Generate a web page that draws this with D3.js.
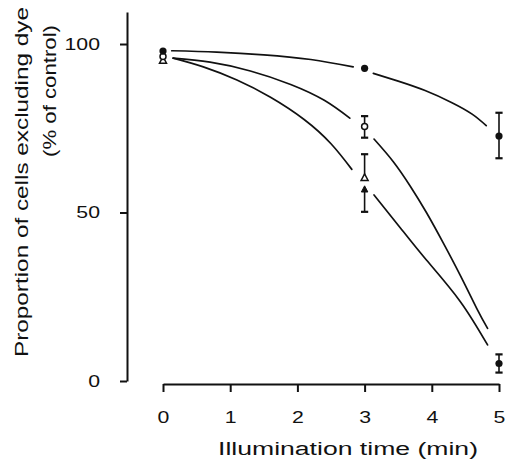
<!DOCTYPE html>
<html>
<head>
<meta charset="utf-8">
<script src="https://cdn.jsdelivr.net/npm/d3@7"></script>
<style>
  html, body { margin: 0; padding: 0; background: #fff; }
  svg { display: block; }
  text { font-family: "Liberation Sans", Arial, Helvetica, sans-serif; fill: #111; }
</style>
</head>
<body>
<svg id="chart" width="509" height="460"></svg>
<script>
// Illumination time (min) on x, % of control cells excluding dye on y
const xTicks = [0, 1, 2, 3, 4, 5];
const yTicks = [0, 50, 100];

// Measured points: t = time (min), v = % of control, lo/hi = error bar ends
const filledCircles = [
  { t: 0, v: 97.9 },
  { t: 3, v: 92.8 },
  { t: 5, v: 72.7, lo: 66.1, hi: 79.6 },
  { t: 5, v: 5.2, lo: 2.5, hi: 7.9 }
];
const openCircles = [
  { t: 0, v: 96.3 },
  { t: 3, v: 75.5, lo: 72.2, hi: 78.6 }
];
const openTriangles = [
  { t: 0, v: 95.3 },
  { t: 3, v: 60.5, hi: 67.3 }
];
const filledTriangles = [
  { t: 3, v: 57.0, lo: 50.2 }
];

// Fitted curves (segments stop short of the symbols)
const curveA1 = [[0.13, 98.0], [0.8, 97.6], [1.5, 96.8], [2.2, 95.4], [2.83, 93.2]];
const curveA2 = [[3.13, 91.3], [3.5, 89.0], [3.9, 86.2], [4.3, 82.6], [4.6, 79.2], [4.81, 75.8]];
const curveB1 = [[0.15, 95.8], [0.7, 94.6], [1.3, 92.0], [1.9, 88.0], [2.4, 83.3], [2.78, 78.0]];
const curveB2 = [[3.14, 71.8], [3.43, 65.0], [3.68, 57.8], [3.92, 50.0], [4.17, 41.0], [4.42, 31.5], [4.67, 21.5], [4.83, 15.6]];
const curveC1 = [[0.15, 95.8], [0.6, 93.2], [1.1, 89.3], [1.6, 84.2], [2.1, 77.6], [2.5, 70.4], [2.81, 62.8]];
const curveD1 = [[3.14, 55.2], [3.53, 45.5], [3.92, 35.9], [4.42, 23.7], [4.83, 10.7]];

const svg = d3.select("#chart");

const x = d3.scaleLinear().domain([0, 5]).range([163, 499]);
const y = d3.scaleLinear().domain([0, 109.5]).range([381, 12]);

// --- axes ---
const yAxis = svg.append("g")
  .attr("transform", "translate(127,0)")
  .call(d3.axisLeft(y).tickValues(yTicks).tickSizeInner(7).tickSizeOuter(0).tickPadding(20).tickFormat(d3.format("d")));

const xAxis = svg.append("g")
  .attr("transform", "translate(0,384)")
  .call(d3.axisBottom(x).tickValues(xTicks).tickSizeInner(8).tickSizeOuter(0).tickPadding(19).tickFormat(d3.format("d")));

[yAxis, xAxis].forEach(g => {
  g.select(".domain").attr("stroke", "#111").attr("stroke-width", 2);
  g.selectAll(".tick line").attr("stroke", "#111").attr("stroke-width", 2);
  g.selectAll(".tick text")
    .attr("font-family", null)
    .attr("font-size", 17)
    .attr("fill", "#111")
    .each(function () {
      const w = this.getComputedTextLength();
      d3.select(this).attr("textLength", w * 1.25).attr("lengthAdjust", "spacingAndGlyphs");
    });
});

// --- axis titles ---
svg.append("text")
  .attr("x", 218).attr("y", 455)
  .attr("font-size", 18)
  .attr("textLength", 260).attr("lengthAdjust", "spacingAndGlyphs")
  .text("Illumination time (min)");

svg.append("text")
  .attr("transform", "translate(27.5,357) rotate(-90)")
  .attr("font-size", 18)
  .attr("textLength", 350).attr("lengthAdjust", "spacingAndGlyphs")
  .text("Proportion of cells excluding dye");

svg.append("text")
  .attr("transform", "translate(56,157) rotate(-90)")
  .attr("font-size", 18)
  .attr("textLength", 132).attr("lengthAdjust", "spacingAndGlyphs")
  .text("(% of control)");

// --- curves ---
const line = d3.line()
  .x(d => x(d[0]))
  .y(d => y(d[1]))
  .curve(d3.curveNatural);

svg.append("g")
  .selectAll("path")
  .data([curveA1, curveA2, curveB1, curveB2, curveC1, curveD1])
  .join("path")
  .attr("d", line)
  .attr("fill", "none")
  .attr("stroke", "#111")
  .attr("stroke-width", 1.7)
  .attr("stroke-linecap", "round");

// --- error bars ---
const capW = 3.6;
function errorBars(data) {
  const g = svg.append("g").attr("stroke", "#111");
  data.filter(d => d.lo !== undefined || d.hi !== undefined).forEach(d => {
    const top = d.hi !== undefined ? d.hi : d.v;
    const bot = d.lo !== undefined ? d.lo : d.v;
    g.append("line")
      .attr("x1", x(d.t)).attr("x2", x(d.t))
      .attr("y1", y(top)).attr("y2", y(bot))
      .attr("stroke-width", 1.6);
    [d.hi, d.lo].filter(e => e !== undefined).forEach(e => {
      g.append("line")
        .attr("x1", x(d.t) - capW).attr("x2", x(d.t) + capW)
        .attr("y1", y(e)).attr("y2", y(e))
        .attr("stroke-width", 2.2);
    });
  });
}
[filledCircles, openCircles, openTriangles, filledTriangles].forEach(errorBars);

// --- symbols ---
const tri = (cx, cy, s) => {
  const h = s * 0.95;
  return `M${cx},${cy - h / 2}L${cx + s / 2},${cy + h / 2}L${cx - s / 2},${cy + h / 2}Z`;
};

svg.append("g").selectAll("path")
  .data(openTriangles)
  .join("path")
  .attr("d", d => tri(x(d.t), y(d.v), 7))
  .attr("fill", "#fff").attr("stroke", "#111").attr("stroke-width", 1.5);

svg.append("g").selectAll("path")
  .data(filledTriangles)
  .join("path")
  .attr("d", d => tri(x(d.t), y(d.v), 6.5))
  .attr("fill", "#111").attr("stroke", "#111").attr("stroke-width", 1);

svg.append("g").selectAll("circle")
  .data(openCircles)
  .join("circle")
  .attr("cx", d => x(d.t)).attr("cy", d => y(d.v)).attr("r", 3)
  .attr("fill", "#fff").attr("stroke", "#111").attr("stroke-width", 1.5);

svg.append("g").selectAll("circle")
  .data(filledCircles)
  .join("circle")
  .attr("cx", d => x(d.t)).attr("cy", d => y(d.v)).attr("r", 3.6)
  .attr("fill", "#111");
</script>
</body>
</html>
